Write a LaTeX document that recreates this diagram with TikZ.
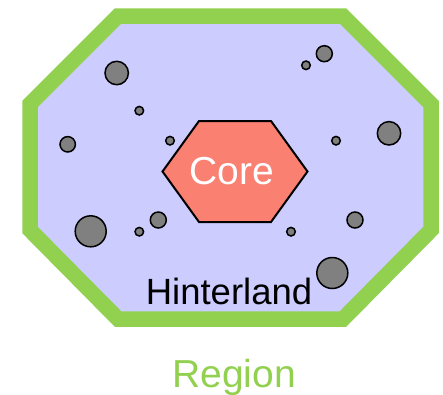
\documentclass[tikz,border=0pt]{standalone}
\usepackage{fontspec}
\setmainfont{Liberation Sans}
\definecolor{regiongreen}{HTML}{92D050}
\definecolor{lavender}{HTML}{CCCCFF}
\definecolor{coresalmon}{HTML}{FA8072}
\definecolor{dotgrey}{HTML}{808080}
\tikzset{
  town/.style={fill=dotgrey, draw=black, line width=1.5pt},
  regionline/.style={draw=regiongreen, fill=lavender, line width=15.5pt, line join=miter},
  coreshape/.style={draw=black, fill=coresalmon, line width=2pt, line join=miter},
}
\begin{document}
\begin{tikzpicture}[x=1pt,y=-1pt]
\useasboundingbox (0,0) rectangle (443,394);
% region octagon
\draw[regionline] (118,16) -- (343,16) -- (431,104) -- (431,230) -- (343,319) -- (118,319) -- (30,230) -- (30,104) -- cycle;
% core hexagon
\draw[coreshape] (162.5,171.5) -- (199,121) -- (271,121) -- (307.5,171.5) -- (271,222) -- (199,222) -- cycle;
% towns
\foreach \x/\y/\r [count=\i] in {116.7/73/11.7, 139.3/110.7/4.3, 170/140.7/4.3, 67.7/144.3/7.7,
  90.7/231.3/15.5, 139.3/231.7/4.3, 158.3/220/8, 291/231.7/4.3, 332.3/273/15.5,
  355/220/8, 389/133.3/11.7, 336/140.7/4.3, 306/65.3/4.3, 324.3/53.7/8}
  \draw[town] (\x,\y) circle[radius=\r];
% labels
\node[text=white, font=\fontsize{39}{39}\selectfont, anchor=base, inner sep=0pt] (core) at (232,184) {Core};
\node[text=black, font=\fontsize{36.5}{36.5}\selectfont, anchor=base, inner sep=0pt] (hinterland) at (229,304) {Hinterland};
\node[text=regiongreen, font=\fontsize{39}{39}\selectfont, anchor=base, inner sep=0pt] (region) at (234,387) {Region};
\end{tikzpicture}
\end{document}
